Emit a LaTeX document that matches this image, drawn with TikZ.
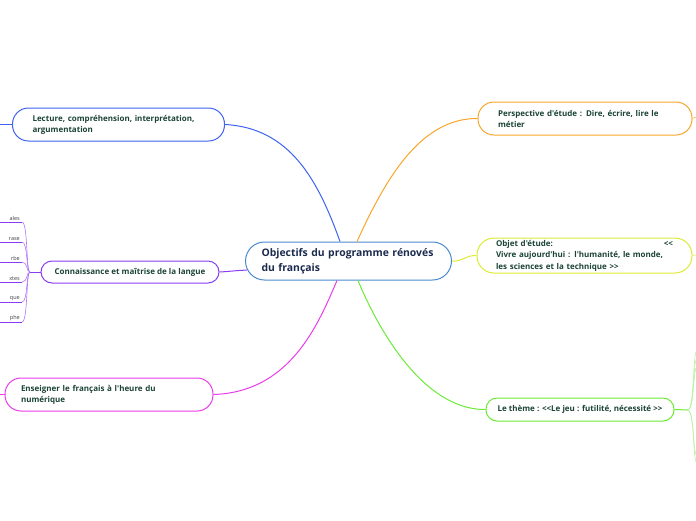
\documentclass[tikz,border=0pt]{standalone}
\usepackage{fontspec}
\setmainfont{Open Sans}[Ligatures=TeXOff]
\usepackage{tikz}

\definecolor{cblue}{HTML}{3D63F0}
\definecolor{ccenter}{HTML}{4A8AD0}
\definecolor{corange}{HTML}{F8A62A}
\definecolor{cyellow}{HTML}{DDEB35}
\definecolor{cgreen}{HTML}{6AEB34}
\definecolor{clgreen}{HTML}{B5F3A0}
\definecolor{cmagenta}{HTML}{EA3BEA}
\definecolor{cpurple}{HTML}{8A3CF2}
\definecolor{ctext}{HTML}{1C4436}
\definecolor{ctitle}{HTML}{1B2B4E}

\tikzset{
  topic/.style={draw, line width=1pt, fill=white, align=left, text=ctext,
    inner sep=0pt, font=\bfseries\fontsize{8}{11}\selectfont},
  link/.style={line width=1pt},
  sublabel/.style={anchor=south east, inner sep=1pt, text=black!75,
    font=\fontsize{5.5}{6}\selectfont}
}

\begin{document}
\begin{tikzpicture}[x=1pt,y=-1pt]
  \useasboundingbox (0,0) rectangle (696,520);

  % main topics
  \node[topic, draw=ccenter, rounded corners=19pt, minimum width=206pt, minimum height=38pt,
    text width=174pt, text=ctitle, font=\bfseries\fontsize{10.4}{15}\selectfont]
    (center) at (348.5,261) {Objectifs du programme rénovés\\du français};
  \node[topic, draw=cblue, rounded corners=16pt, minimum width=212pt, minimum height=33pt,
    text width=172pt] (lecture) at (118.5,124.5) {Lecture, compréhension, interprétation,\\argumentation};
  \node[topic, draw=cpurple, rounded corners=11pt, minimum width=178pt, minimum height=22pt,
    align=center] (langue) at (130,272) {Connaissance et maîtrise de la langue};
  \node[topic, draw=cmagenta, rounded corners=16pt, minimum width=208pt, minimum height=33pt,
    text width=176pt] (numerique) at (109,394.5) {Enseigner le français à l'heure du\\numérique};
  \node[topic, draw=corange, rounded corners=16pt, minimum width=214pt, minimum height=33pt,
    text width=174pt] (perspective) at (585,118.5) {Perspective d'étude : Dire, écrire, lire le\\métier};
  \node[topic, draw=cyellow, rounded corners=17pt, minimum width=215pt, minimum height=35pt,
    text width=177pt, font=\bfseries\fontsize{8}{11.5}\selectfont]
    (objet) at (584.5,255.5) {Objet d'étude:\hfill{<}{<}\hspace*{6pt}\\Vivre aujourd'hui : l'humanité, le monde,\\les sciences et la technique {>}{>}};
  \node[topic, draw=cgreen, rounded corners=11pt, minimum width=188pt, minimum height=23pt,
    align=center] (theme) at (580,409.5) {Le thème : {<}{<}Le jeu : futilité, nécessité {>}{>}};

  % links from the centre
  \draw[link, cblue] (lecture.east) .. controls (290,128) and (318,180) .. (center.north -| 340,0);
  \draw[link, corange] (center.north -| 357,0) .. controls (385,180) and (420,118) .. (perspective.west);
  \draw[link, cyellow] (center.east) .. controls (462,262) and (466,255) .. (objet.west);
  \draw[link, cgreen] (center.south -| 358,0) .. controls (385,345) and (430,410) .. (theme.west);
  \draw[link, cmagenta] (numerique.east) .. controls (290,392) and (318,325) .. (center.south -| 337,0);
  \draw[link, cpurple] ([xshift=2pt]center.185) .. controls (236,270.5) and (229,271.5) .. (langue.east);

  % stubs to hidden children
  \coordinate (lecture-out) at (0,124.5);
  \coordinate (numerique-out) at (0,394.5);
  \coordinate (perspective-out) at (696,117);
  \coordinate (objet-out) at (696,255);
  \draw[cblue, line width=0.8pt] (lecture.west) -- (lecture-out);
  \draw[cmagenta, line width=0.8pt] (numerique.west) -- (numerique-out);
  \draw[corange, line width=0.5pt] (perspective.east) -- (perspective-out);
  \draw[cyellow, line width=0.5pt] (objet.east) -- (objet-out);

  % langue sub branches
  \coordinate (lgfork) at (30,272);
  \draw[link, cpurple] (langue.west) -- (lgfork);
  \foreach \y/\t [count=\i] in {222/ales,242/rase,262/rbe,282/xtes,302/que,322/phe}{
    \coordinate (lg\i) at (22,\y);
    \node[sublabel] (lgl\i) at (21,\y) {\t};
    \draw[cpurple!70, line width=0.6pt] (lgfork) .. controls (26,272) and (28,\y) .. (lg\i);
    \draw[cpurple, line width=1pt] (lg\i) -- (lgl\i.south west -| 0,0);
  }

  % theme sub branches
  \coordinate (thfork) at (688,410);
  \draw[link, cgreen] (theme.east) -- (thfork);
  \foreach \y in {352,360,368}{
    \draw[clgreen, line width=0.6pt] (thfork) .. controls (694,408) and (693,\y+8) .. (696,\y);
  }
  \foreach \y in {455,462}{
    \draw[clgreen, line width=0.6pt] (thfork) .. controls (694,412) and (693,\y-8) .. (696,\y);
  }
\end{tikzpicture}
\end{document}
